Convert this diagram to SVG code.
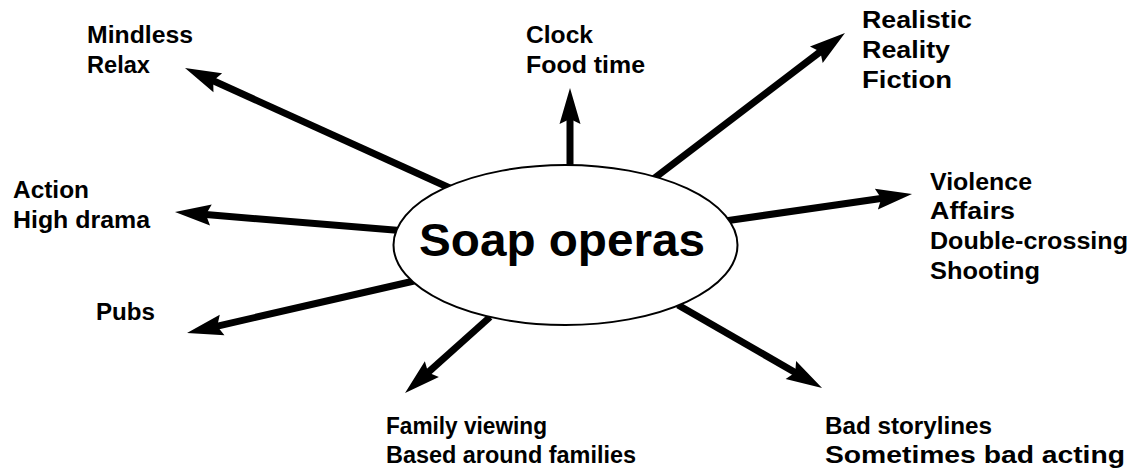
<svg xmlns="http://www.w3.org/2000/svg" width="1139" height="470" viewBox="0 0 1139 470">
<style>
.lbl{font-family:"Liberation Sans",Arial,sans-serif;font-weight:bold;font-size:23.5px;fill:#000}
.arr{stroke:#000;stroke-width:7;fill:none;marker-end:url(#ah)}
</style>
<defs>
<marker id="ah" markerUnits="userSpaceOnUse" refX="0" refY="0" markerWidth="60" markerHeight="60" orient="auto" overflow="visible">
<path d="M28,0 L-8,-10.5 L-3,0 L-8,10.5 Z" fill="#000"/>
</marker>
</defs>
<rect width="1139" height="470" fill="#fff"/>
<g id="connectors">
<line class="arr" x1="570" y1="170" x2="570" y2="116"/>
<line class="arr" x1="652" y1="180" x2="822.7" y2="49.9"/>
<line class="arr" x1="452" y1="189" x2="210.5" y2="79.5"/>
<line class="arr" x1="725" y1="221" x2="884.3" y2="198"/>
<line class="arr" x1="400" y1="230.5" x2="202.9" y2="214.3"/>
<line class="arr" x1="414" y1="281" x2="214.3" y2="326.8"/>
<line class="arr" x1="490" y1="317" x2="425.9" y2="374.4"/>
<line class="arr" x1="678" y1="305" x2="797.8" y2="374"/>
</g>
<g id="center">
<ellipse cx="565.5" cy="245" rx="172" ry="80" fill="#fff" stroke="#000" stroke-width="2"/>
<text x="562" y="256" text-anchor="middle" style="font-family:'Liberation Sans',Arial,sans-serif;font-weight:bold;font-size:46px" textLength="286" lengthAdjust="spacingAndGlyphs">Soap operas</text>
</g>
<g id="n-mindless"><text class="lbl" x="87" y="43" textLength="106" lengthAdjust="spacingAndGlyphs">Mindless</text><text class="lbl" x="87" y="73" textLength="63" lengthAdjust="spacingAndGlyphs">Relax</text></g>
<g id="n-clock"><text class="lbl" x="526" y="43" textLength="67" lengthAdjust="spacingAndGlyphs">Clock</text><text class="lbl" x="526" y="73" textLength="119" lengthAdjust="spacingAndGlyphs">Food time</text></g>
<g id="n-realistic"><text class="lbl" x="862" y="28" textLength="110" lengthAdjust="spacingAndGlyphs">Realistic</text><text class="lbl" x="862" y="58" textLength="88" lengthAdjust="spacingAndGlyphs">Reality</text><text class="lbl" x="862" y="88" textLength="90" lengthAdjust="spacingAndGlyphs">Fiction</text></g>
<g id="n-action"><text class="lbl" x="13" y="198" textLength="76" lengthAdjust="spacingAndGlyphs">Action</text><text class="lbl" x="13" y="228" textLength="137" lengthAdjust="spacingAndGlyphs">High drama</text></g>
<g id="n-violence"><text class="lbl" x="930" y="190" textLength="102" lengthAdjust="spacingAndGlyphs">Violence</text><text class="lbl" x="930" y="219" textLength="85" lengthAdjust="spacingAndGlyphs">Affairs</text><text class="lbl" x="930" y="249" textLength="198" lengthAdjust="spacingAndGlyphs">Double-crossing</text><text class="lbl" x="930" y="279" textLength="110" lengthAdjust="spacingAndGlyphs">Shooting</text></g>
<g id="n-pubs"><text class="lbl" x="96" y="320" textLength="59" lengthAdjust="spacingAndGlyphs">Pubs</text></g>
<g id="n-family"><text class="lbl" x="386" y="434" textLength="161" lengthAdjust="spacingAndGlyphs">Family viewing</text><text class="lbl" x="386" y="463" textLength="250" lengthAdjust="spacingAndGlyphs">Based around families</text></g>
<g id="n-bad"><text class="lbl" x="825" y="434" textLength="167" lengthAdjust="spacingAndGlyphs">Bad storylines</text><text class="lbl" x="825" y="463" textLength="300" lengthAdjust="spacingAndGlyphs">Sometimes bad acting</text></g>
</svg>
